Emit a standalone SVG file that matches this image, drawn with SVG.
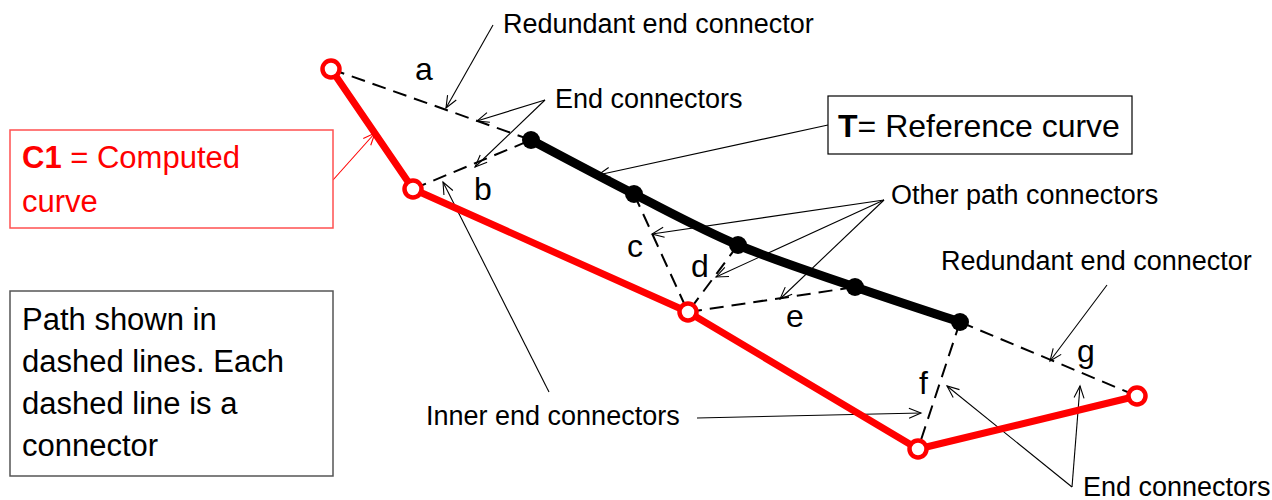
<svg xmlns="http://www.w3.org/2000/svg" width="1272" height="500" viewBox="0 0 1272 500">
<style>
text{font-family:"Liberation Sans",Arial,sans-serif;fill:#000}
.lbl{font-size:27px}
.let{font-size:32px}
.box{font-size:31px}
.dash{stroke:#000;stroke-width:2;stroke-dasharray:14,8;fill:none}
.call{stroke:#000;stroke-width:1.1;fill:none}
.redcall{stroke:#ff0000;stroke-width:1.1;fill:none}
.red{stroke:#ff0000;stroke-width:7;fill:none;stroke-linejoin:round}
.rp{fill:#fff;stroke:#ff0000;stroke-width:4.5}
.bp{fill:#000}
</style>
<defs>
<marker id="ah" markerUnits="userSpaceOnUse" markerWidth="16" markerHeight="12" refX="13" refY="6" orient="auto" viewBox="0 0 16 12">
<path d="M1,1 L13,6 L1,11" fill="none" stroke="#000" stroke-width="1.1"/>
</marker>
<marker id="ahr" markerUnits="userSpaceOnUse" markerWidth="16" markerHeight="12" refX="13" refY="6" orient="auto" viewBox="0 0 16 12">
<path d="M1,1 L13,6 L1,11" fill="none" stroke="#ff0000" stroke-width="1.1"/>
</marker>
</defs>

<g id="connectors">
<line id="conn-a" class="dash" x1="331" y1="69" x2="531" y2="140"/>
<line id="conn-b" class="dash" x1="413" y1="189" x2="531" y2="140"/>
<line id="conn-c" class="dash" x1="634" y1="194" x2="688" y2="312"/>
<line id="conn-d" class="dash" x1="738" y1="245" x2="688" y2="312"/>
<line id="conn-e" class="dash" x1="688" y1="312" x2="855" y2="287"/>
<line id="conn-f" class="dash" x1="960" y1="322" x2="918" y2="449"/>
<line id="conn-g" class="dash" x1="960" y1="322" x2="1137" y2="396"/>
<line class="call" x1="493" y1="25" x2="446" y2="108" marker-end="url(#ah)"/>
<line class="call" x1="545" y1="100" x2="477" y2="121" marker-end="url(#ah)"/>
<line class="call" x1="545" y1="100" x2="475" y2="167" marker-end="url(#ah)"/>
<line class="call" x1="828" y1="125" x2="598" y2="175" marker-end="url(#ah)"/>
<line class="call" x1="884" y1="200" x2="652" y2="234" marker-end="url(#ah)"/>
<line class="call" x1="884" y1="200" x2="716" y2="277" marker-end="url(#ah)"/>
<line class="call" x1="884" y1="200" x2="780" y2="299" marker-end="url(#ah)"/>
<line class="call" x1="1107" y1="285" x2="1050" y2="361" marker-end="url(#ah)"/>
<line class="call" x1="1072" y1="487" x2="947" y2="386" marker-end="url(#ah)"/>
<line class="call" x1="1072" y1="487" x2="1080" y2="386" marker-end="url(#ah)"/>
<line class="call" x1="549" y1="392" x2="443" y2="182" marker-end="url(#ah)"/>
<line class="call" x1="697" y1="418" x2="921" y2="413" marker-end="url(#ah)"/>
<line class="redcall" x1="333" y1="180" x2="375" y2="133" marker-end="url(#ahr)"/>
</g>

<g id="computed-curve">
<polyline class="red" points="331,69 413,189 688,312 918,449 1137,396"/>
<circle class="rp" cx="331" cy="69" r="8.5"/>
<circle class="rp" cx="413" cy="189" r="8.5"/>
<circle class="rp" cx="688" cy="312" r="8.5"/>
<circle class="rp" cx="918" cy="449" r="8.5"/>
<circle class="rp" cx="1137" cy="396" r="8.5"/>
</g>

<g id="reference-curve">
<path d="M531,140 C548.2,149 599.5,176.5 634,194 C668.5,211.5 701.2,229.5 738,245 C774.8,260.5 818,274.2 855,287 C892,299.8 942.5,316.2 960,322" fill="none" stroke="#000" stroke-width="9" stroke-linecap="round"/>
<circle class="bp" cx="531" cy="140" r="9"/>
<circle class="bp" cx="634" cy="194" r="9"/>
<circle class="bp" cx="738" cy="245" r="9"/>
<circle class="bp" cx="855" cy="287" r="9"/>
<circle class="bp" cx="960" cy="322" r="9"/>
</g>

<g id="connector-labels">
<text class="let" x="415" y="80">a</text>
<text class="let" x="474" y="200">b</text>
<text class="let" x="627" y="257">c</text>
<text class="let" x="691" y="277">d</text>
<text class="let" x="786" y="327">e</text>
<text class="let" x="919" y="394">f</text>
<text class="let" x="1077" y="362">g</text>
</g>

<g id="callout-labels">
<text class="lbl" x="503" y="33">Redundant end connector</text>
<text class="lbl" x="555" y="108">End connectors</text>
<text class="lbl" x="891" y="204">Other path connectors</text>
<text class="lbl" x="941" y="270">Redundant end connector</text>
<text class="lbl" x="426" y="425">Inner end connectors</text>
<text class="lbl" x="1083" y="496">End connectors</text>
</g>

<g id="t-box">
<rect x="828" y="96" width="304" height="58" fill="#fff" stroke="#000" stroke-width="1.2"/>
<text x="838" y="137" style="font-size:32px"><tspan font-weight="bold">T</tspan>= Reference curve</text>
</g>

<g id="c1-box">
<rect x="10" y="130" width="323" height="98" fill="#fff" stroke="#ff5050" stroke-width="1.5"/>
<text class="box" x="22" y="168" style="fill:#ff0000"><tspan font-weight="bold">C1</tspan> = Computed</text>
<text class="box" x="22" y="212" style="fill:#ff0000">curve</text>
</g>

<g id="path-box">
<rect x="10" y="291" width="323" height="185" fill="#fff" stroke="#555" stroke-width="1.5"/>
<text class="box" x="22" y="330">Path shown in</text>
<text class="box" x="22" y="372">dashed lines. Each</text>
<text class="box" x="22" y="414">dashed line is a</text>
<text class="box" x="22" y="456">connector</text>
</g>
</svg>
